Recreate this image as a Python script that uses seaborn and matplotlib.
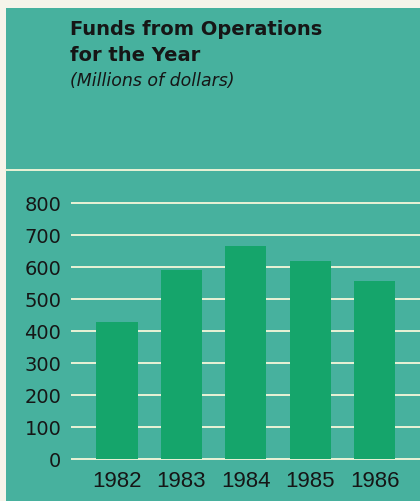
import matplotlib
matplotlib.use("Agg")
import matplotlib.pyplot as plt
from matplotlib.patches import Rectangle
from matplotlib.lines import Line2D
import seaborn as sns

# Funds from operations, millions of dollars
years = ["1982", "1983", "1984", "1985", "1986"]
funds = [428, 590, 665, 619, 556]
y_ticks = [0, 100, 200, 300, 400, 500, 600, 700, 800]

PAGE = "#F6F4EA"
PANEL = "#47B19E"
BAR = "#15A56B"
RULE = "#EAF2D6"
INK = "#161616"

sns.set_style("white")
plt.rcParams["font.family"] = ["DejaVu Sans"]

W, H = 420, 502
fig = plt.figure(figsize=(W / 100, H / 100), dpi=100, facecolor=PAGE)

# coloured panel behind the chart
fig.patches.append(Rectangle((6 / W, 0), 1, (H - 9) / H, transform=fig.transFigure,
                             facecolor=PANEL, edgecolor="none", zorder=-10))
# thin rule under the heading
fig.lines.append(Line2D([6 / W, 1], [1 - 171 / H] * 2, transform=fig.transFigure,
                        color=RULE, lw=1.4, zorder=-5))

# heading
fig.text(70 / W, 1 - 35 / H, "Funds from Operations", fontsize=14, fontweight="bold",
         color=INK, va="baseline", ha="left")
fig.text(70 / W, 1 - 61 / H, "for the Year", fontsize=14, fontweight="bold",
         color=INK, va="baseline", ha="left")
fig.text(70 / W, 1 - 86 / H, "(Millions of dollars)", fontsize=12.5, fontstyle="italic",
         color=INK, va="baseline", ha="left")

ax = fig.add_axes([71 / W, (H - 460) / H, (W - 71) / W, 256 / H])
ax.set_facecolor("none")

# horizontal rules behind the bars
ax.hlines(y_ticks, 0, 1, transform=ax.get_yaxis_transform(), colors=RULE,
          lw=1.4, zorder=1, clip_on=False)

sns.barplot(x=years, y=funds, color=BAR, saturation=1, width=0.64, ax=ax,
            linewidth=0, edgecolor="none", zorder=3)

ax.set_xlim(-0.714, 4.705)
ax.set_ylim(0, 800)
ax.set_yticks(y_ticks)
ax.set_yticklabels([str(v) for v in y_ticks])
ax.set_xlabel("")
ax.set_ylabel("")
ax.grid(False)

for s in ax.spines.values():
    s.set_visible(False)

ax.tick_params(axis="y", length=0, pad=7, labelsize=14, labelcolor=INK)
ax.tick_params(axis="x", length=0, pad=8, labelsize=16, labelcolor=INK)
for lbl in ax.get_xticklabels():
    lbl.set_fontfamily(["Liberation Sans", "DejaVu Sans"])

fig.savefig("out.png", dpi=100, facecolor=PAGE)
